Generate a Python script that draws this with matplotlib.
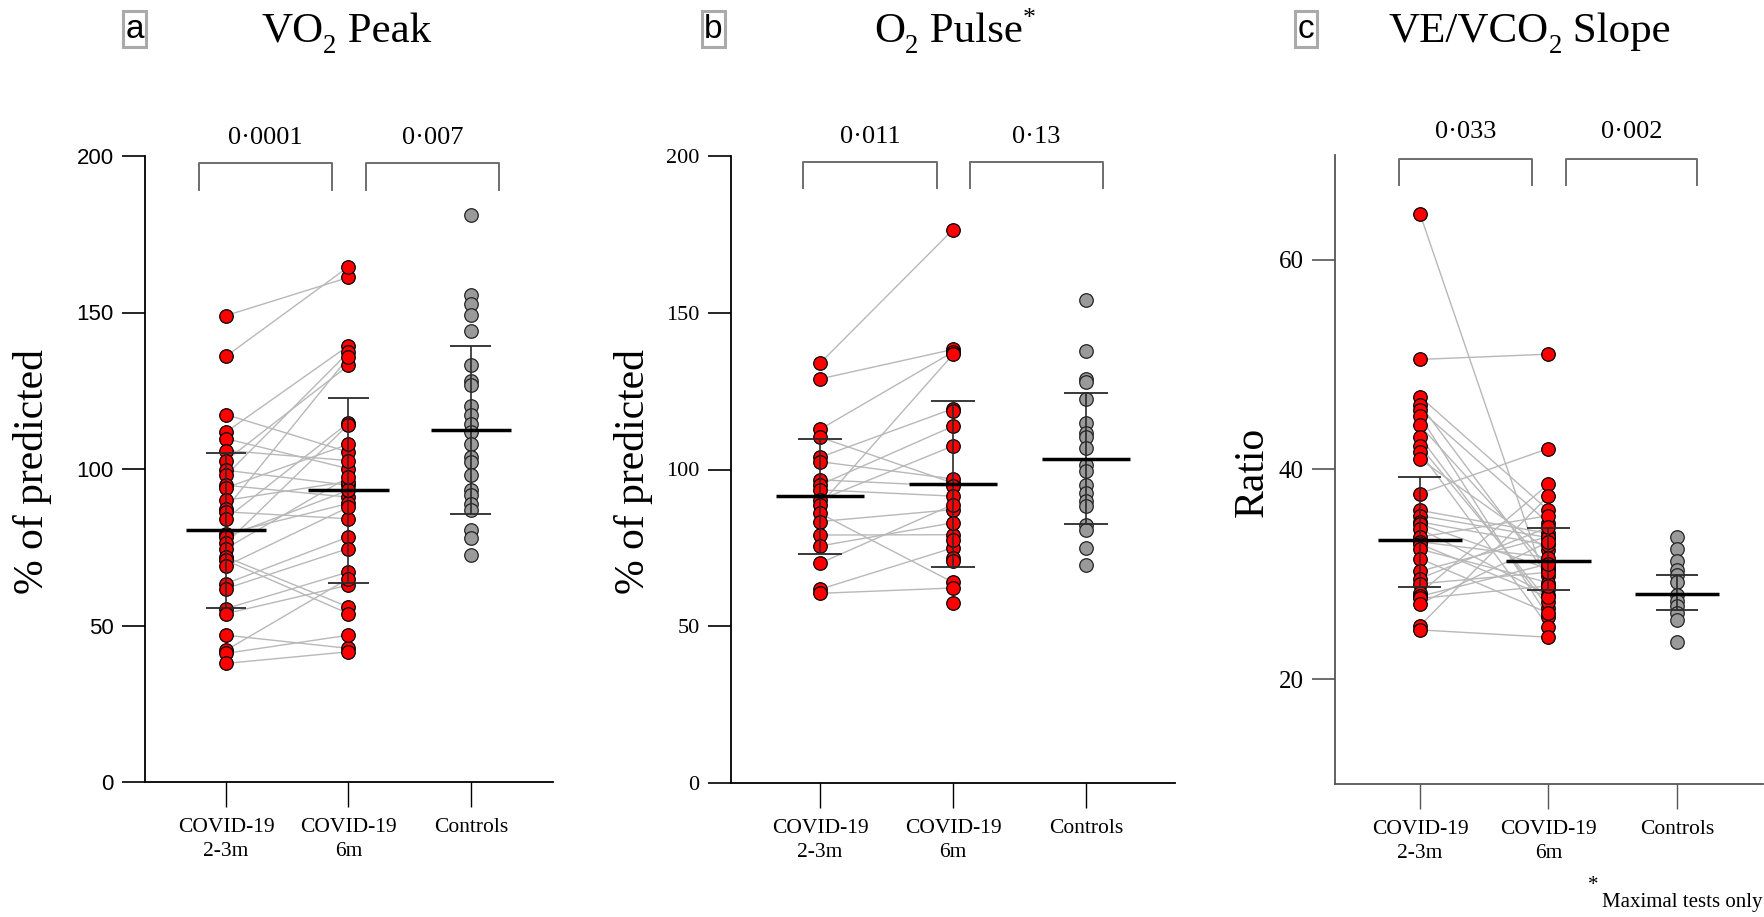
import matplotlib
matplotlib.use("Agg")
import matplotlib.pyplot as plt

SERIF = 'Liberation Serif'
SANS = 'Liberation Sans'

# ---------------- data ----------------
categories = ["COVID-19\n2-3m", "COVID-19\n6m", "Controls"]

# Panel a: VO2 peak (% of predicted); 2-3m and 6m lists are paired index-wise
vo2_2_3m = [149, 136, 117.4, 111.8, 109.7, 105.9, 102.7, 99.6, 98.0, 94.8, 94.0, 90.0,
            87.3, 86.3, 84.1, 79.3, 78.3, 76.2, 74.6, 71.9, 70.8, 69.0, 63.4, 61.8,
            55.4, 53.8, 46.9, 42.1, 41.1, 37.9]
vo2_6m = [161.2, 164.6, 105.4, 139.4, 100.1, 102.7, 133.1, 94.8, 137.3, 91.0, 107.9, 96.0,
          135.7, 84.1, 114.8, 89.0, 93.2, 114.2, 97.4, 55.9, 53.8, 87.8, 78.3, 74.6,
          67.1, 62.9, 42.7, 65.0, 46.9, 41.6]
vo2_controls = [181.2, 155.7, 152.7, 149.3, 144.0, 133.3, 128.0, 126.7, 120.0, 117.1, 114.4,
                111.8, 108.1, 103.8, 102.2, 98.0, 93.2, 91.6, 88.9, 86.8, 80.4, 77.8, 72.4]
vo2_mean = [80.4, 93.2, 112.5]
vo2_err_lo = [55.7, 63.6, 85.5]
vo2_err_hi = [105.2, 122.7, 139.4]
vo2_p = ["0\u00b70001", "0\u00b7007"]

# Panel b: O2 pulse (% of predicted); first 18 of 6m are paired with 2-3m
o2_2_3m = [133.9, 128.9, 112.8, 110.3, 103.9, 102.5, 96.7, 95.1, 93.5, 90.3, 88.7, 86.0,
           83.4, 79.1, 75.6, 70.1, 61.8, 60.5]
o2_6m = [176.5, 138.3, 137.5, 95.7, 119.4, 97.0, 94.7, 113.8, 91.5, 107.5, 136.7, 64.0,
         87.2, 79.2, 83.0, 88.8, 75.0, 62.2, 118.6, 77.6, 71.8, 70.7, 57.4]
o2_controls = [154.1, 137.8, 128.8, 127.9, 122.6, 114.7, 111.7, 110.4, 106.9, 101.3, 99.5,
               94.9, 92.5, 89.9, 88.3, 82.4, 80.8, 75.0, 69.6]
o2_mean = [91.6, 95.4, 103.4]
o2_err_lo = [73.1, 68.8, 82.6]
o2_err_hi = [109.8, 121.8, 124.3]
o2_p = ["0\u00b7011", "0\u00b713"]

# Panel c: VE/VCO2 slope (ratio); paired index-wise
ve_2_3m = [64.4, 50.5, 46.95, 46.2, 45.7, 45.1, 44.2, 43.1, 42.2, 41.65, 41.0, 37.7, 36.1,
           35.6, 35.0, 34.8, 34.35, 33.55, 33.1, 32.9, 32.4, 31.5, 30.3, 29.6, 29.1, 28.2,
           27.9, 27.7, 27.2, 25.1, 24.7]
ve_6m = [28.6, 51.0, 36.1, 29.8, 34.9, 25.9, 30.7, 26.8, 27.4, 25.0, 32.3, 42.0, 33.9,
         33.5, 32.8, 30.5, 28.0, 35.6, 31.6, 27.8, 29.2, 26.3, 33.6, 34.5, 30.2, 38.6,
         31.0, 28.9, 33.1, 37.5, 24.0]
ve_controls = [33.55, 32.4, 31.3, 30.4, 29.9, 29.3, 28.0, 27.5, 27.0, 26.3, 25.6, 23.55]
ve_mean = [33.3, 31.3, 28.1]
ve_err_lo = [28.8, 28.5, 26.6]
ve_err_hi = [39.3, 34.4, 29.9]
ve_p = ["0\u00b7033", "0\u00b7002"]

RED = '#ff0000'
GREY = '#9a9a9a'
LINE = '#b8b8b8'

W, H = 1765, 917
fig = plt.figure(figsize=(W / 100, H / 100), dpi=100)
renderer = fig.canvas.get_renderer()


def axes_px(left, top, right, bottom):
    return fig.add_axes([left / W, 1 - bottom / H, (right - left) / W, (bottom - top) / H])


def draw_panel(ax, g1, g2, g3, mean, lo, hi, ylim, yticks, tickfont, tick_fs,
               pvals, brackets, br_top, br_bot, p_y, spine_color, xlim):
    for a, b in zip(g1, g2):
        ax.plot([0, 1], [a, b], color=LINE, lw=1.0, zorder=2, solid_capstyle='butt')
    ms = 95
    ax.scatter([0] * len(g1), g1, s=ms, color=RED, edgecolor='black', lw=0.9, zorder=3)
    ax.scatter([1] * len(g2), g2, s=ms, color=RED, edgecolor='black', lw=0.9, zorder=3)
    ax.scatter([2] * len(g3), g3, s=ms, color=GREY, edgecolor='#222222', lw=0.9, zorder=3)
    for i in range(3):
        ax.vlines(i, lo[i], hi[i], color='#2a2a2a', lw=1.2, zorder=4)
        ax.hlines([lo[i], hi[i]], i - 0.167, i + 0.167, color='#2a2a2a', lw=1.3, zorder=4)
        ax.hlines(mean[i], i - 0.33, i + 0.33, color='black', lw=2.5, zorder=5)
    for (x0, x1), p in zip(brackets, pvals):
        ax.plot([x0, x0, x1, x1], [br_bot, br_top, br_top, br_bot], color='#6e6e6e',
                lw=1.4, clip_on=False, zorder=2)
        ax.text((x0 + x1) / 2, p_y, p, ha='center', va='center', fontsize=19,
                family=SERIF, clip_on=False)
    ax.set_xlim(*xlim)
    ax.set_ylim(*ylim)
    ax.set_yticks(yticks)
    ax.set_yticklabels([str(t) for t in yticks], family=tickfont, fontsize=tick_fs)
    ax.set_xticks([0, 1, 2])
    ax.set_xticklabels(categories, family=SERIF, fontsize=15.5, linespacing=1.32)
    for s in ['top', 'right']:
        ax.spines[s].set_visible(False)
    for s in ['left', 'bottom']:
        ax.spines[s].set_color(spine_color)
        ax.spines[s].set_linewidth(1.3)
    ax.tick_params(axis='y', length=16.5, width=1.2, pad=6, color=spine_color)
    ax.tick_params(axis='x', length=18, width=1.0, pad=8, color=spine_color)
    ax.set_facecolor('none')


ax_a = axes_px(145, 156, 553, 782)
draw_panel(ax_a, vo2_2_3m, vo2_6m, vo2_controls, vo2_mean, vo2_err_lo, vo2_err_hi,
           (0, 200), [0, 50, 100, 150, 200], SANS, 16, vo2_p,
           [(-0.22, 0.865), (1.143, 2.23)], 197.8, 189.2, 205.8, 'black', (-0.661, 2.67))

ax_b = axes_px(731, 156, 1175, 783)
draw_panel(ax_b, o2_2_3m, o2_6m, o2_controls, o2_mean, o2_err_lo, o2_err_hi,
           (0, 200), [0, 50, 100, 150, 200], SERIF, 16, o2_p,
           [(-0.128, 0.88), (1.128, 2.128)], 198, 189.8, 206, 'black', (-0.669, 2.669))

ax_c = axes_px(1335, 155, 1763, 784)
draw_panel(ax_c, ve_2_3m, ve_6m, ve_controls, ve_mean, ve_err_lo, ve_err_hi,
           (10, 70), [20, 40, 60], SERIF, 18, ve_p,
           [(-0.163, 0.872), (1.136, 2.156)], 69.6, 67.1, 72.2, '#555555', (-0.661, 2.669))

# y labels
fig.text(33 / W, 1 - 471 / H, "% of predicted", rotation=90, ha='center', va='center',
         family=SERIF, fontsize=30)
fig.text(634 / W, 1 - 471 / H, "% of predicted", rotation=90, ha='center', va='center',
         family=SERIF, fontsize=30)
fig.text(1253 / W, 1 - 472 / H, "Ratio", rotation=90, ha='center', va='center',
         family=SERIF, fontsize=30)

# panel letters
for x, letter in [(134.5, 'a'), (713.5, 'b'), (1306, 'c')]:
    fig.text(x / W, 1 - 29 / H, letter, ha='center', va='center', family=SANS, fontsize=24,
             bbox=dict(boxstyle='square,pad=0.08', facecolor='white', edgecolor='#aaaaaa', lw=2.2))


def rich_title(xc, y_base, pieces, fs=31):
    """pieces: (text, size factor, vertical offset in px)"""
    texts = []
    widths = []
    for txt, f, dy in pieces:
        t = fig.text(0, 0, txt, family=SERIF, fontsize=fs * f, ha='left', va='baseline')
        bb = t.get_window_extent(renderer)
        texts.append((t, dy))
        widths.append(bb.width)
    total = sum(widths)
    x = xc - total / 2
    for (t, dy), w in zip(texts, widths):
        t.set_position((x / W, 1 - (y_base + dy) / H))
        x += w


rich_title(346, 42, [("VO", 1, 0), ("2", 0.62, 11), (" Peak", 1, 0)])
rich_title(955, 42, [("O", 1, 0), ("2", 0.62, 11), (" Pulse", 1, 0), ("*", 0.6, -17)])
rich_title(1530, 42, [("VE/VCO", 1, 0), ("2", 0.62, 11), (" Slope", 1, 0)])

# footnote
fig.text(1593 / W, 1 - 885 / H, "*", ha='center', va='center', family=SERIF, fontsize=15)
fig.text(1763 / W, 1 - 903 / H, "Maximal tests only", ha='right', va='center', family=SERIF,
         fontsize=15)

fig.savefig("out.png", dpi=100, facecolor='white')
